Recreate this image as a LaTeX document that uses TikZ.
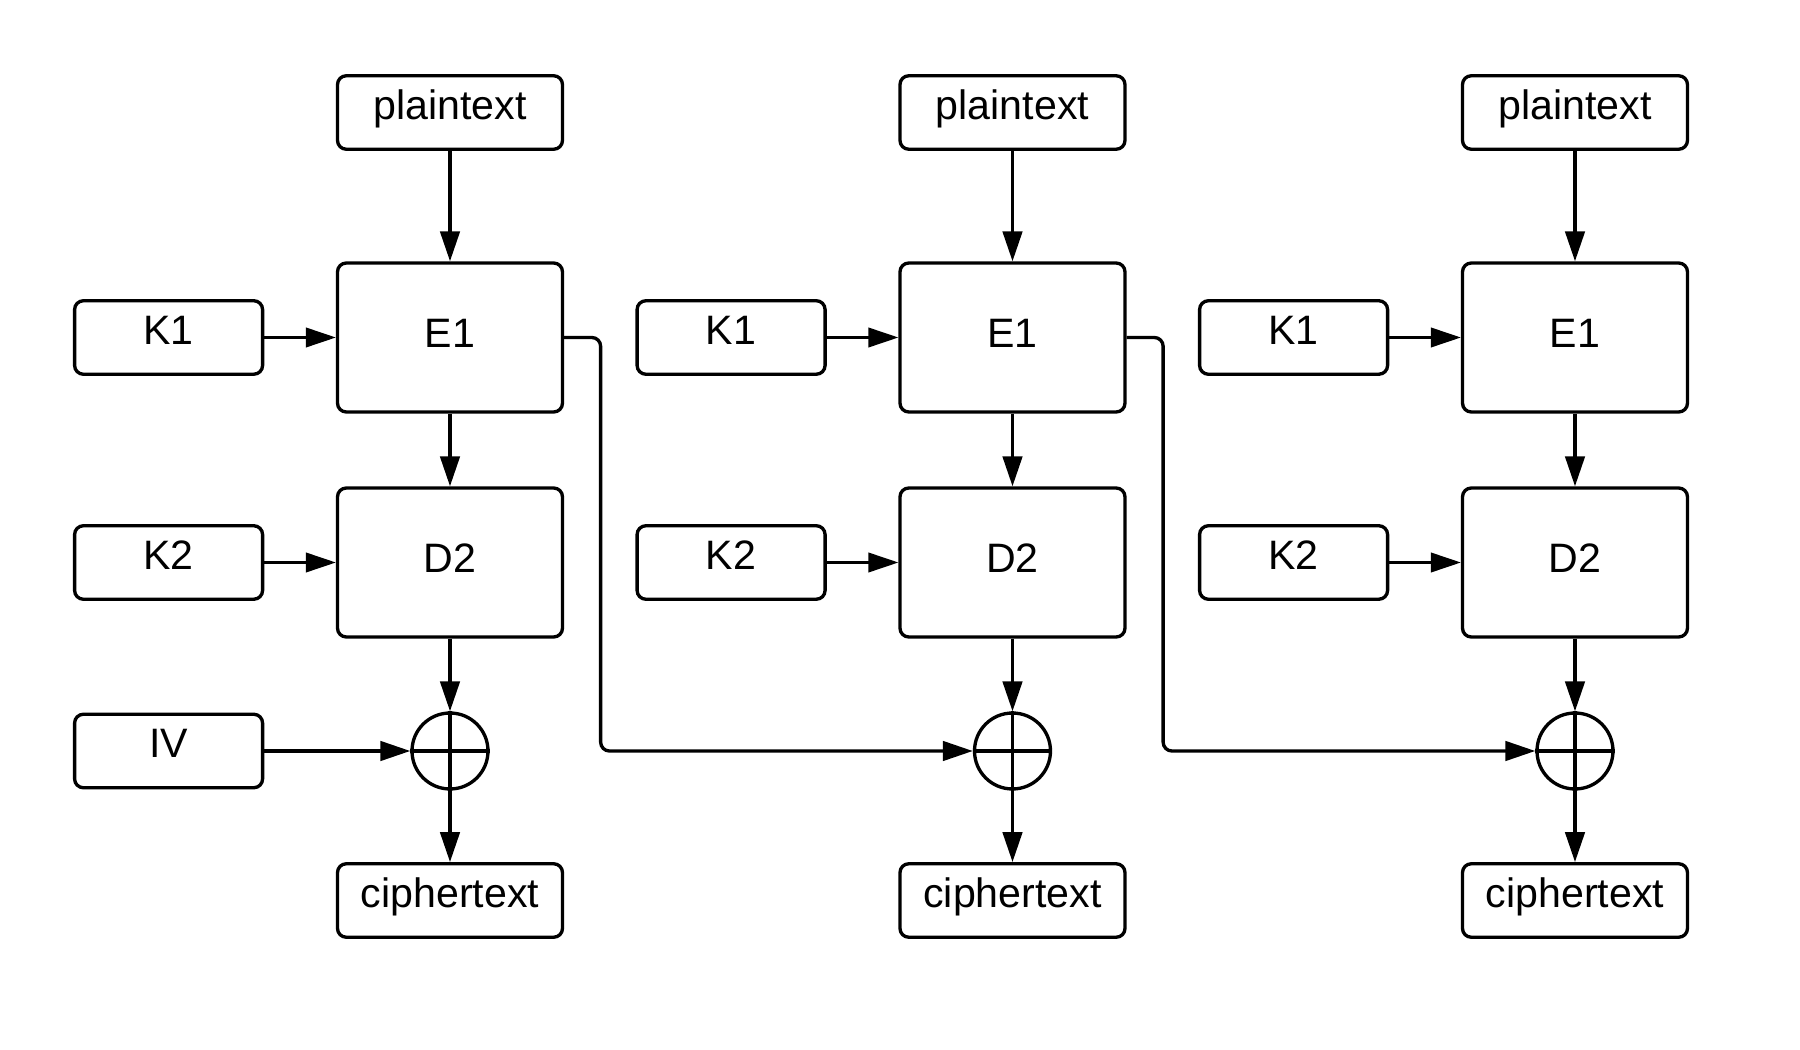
\documentclass[tikz,border=0pt]{standalone}
\usepackage{fontspec}
\setmainfont{Liberation Sans}
\usetikzlibrary{arrows.meta}
\def\colsep{562.5}

\begin{document}
\begin{tikzpicture}[x=0.02cm, y=-0.02cm, line width=1.9pt, draw=black,
    >={Triangle[length=17pt,width=11pt]},
    font=\fontsize{23.4}{28}\selectfont]
    \tikzstyle{textbox}=[rectangle, draw, rounded corners=5pt, minimum width=4.5cm, minimum height=1.47cm, inner sep=0pt, text height=10.2pt, text depth=2.5pt]
    \tikzstyle{block}=[textbox, minimum height=2.98cm, text height=14.1pt]
    \tikzstyle{keybox}=[textbox, minimum width=3.76cm]
    \tikzstyle{xor}=[draw, circle, minimum size=1.52cm, inner sep=0pt]
    \tikzstyle{flow}=[->]
    \tikzstyle{keyflow}=[->, line width=1.5pt]

    \useasboundingbox (0,0) rectangle (1800,1050);

    % Draw the three stages
    \foreach \n in {1,2,3} {
        \pgfmathsetmacro\x{450+(\n-1)*\colsep}
        \pgfmathsetmacro\k{168.6+(\n-1)*\colsep}
        \node[textbox] (P-\n) at (\x,112.5) {plaintext};
        \node[block] (E-\n) at (\x,337.5) {E1};
        \node[block] (D-\n) at (\x,562.5) {D2};
        \node[xor] (X-\n) at (\x,751) {};
        \node[textbox] (C-\n) at (\x,900.5) {ciphertext};
        \node[keybox] (K1-\n) at (\k,337.5) {K1};
        \node[keybox] (K2-\n) at (\k,562.5) {K2};
    }
    \node[keybox] (IV) at (168.6,751) {IV};

    % Connect the blocks of every stage
    \foreach \n in {1,2,3} {
        \draw[flow] (P-\n) -- (E-\n);
        \draw[flow] (E-\n) -- (D-\n);
        \draw[flow] (D-\n) -- (X-\n);
        \draw[flow] (X-\n) -- (C-\n);
        \draw (X-\n.north) -- (X-\n.south);
        \draw (X-\n.west) -- (X-\n.east);
        \draw[keyflow] (K1-\n) -- (E-\n);
        \draw[keyflow] (K2-\n) -- (D-\n);
    }
    \draw[flow] (IV) -- (X-1);

    % Chain E1 of one stage into the next xor
    \foreach \n / \m in {1/2,2/3}
        \draw[flow, rounded corners=5pt] (E-\n.east) -- ++(36.5,0) |- (X-\m.west);
\end{tikzpicture}
\end{document}
